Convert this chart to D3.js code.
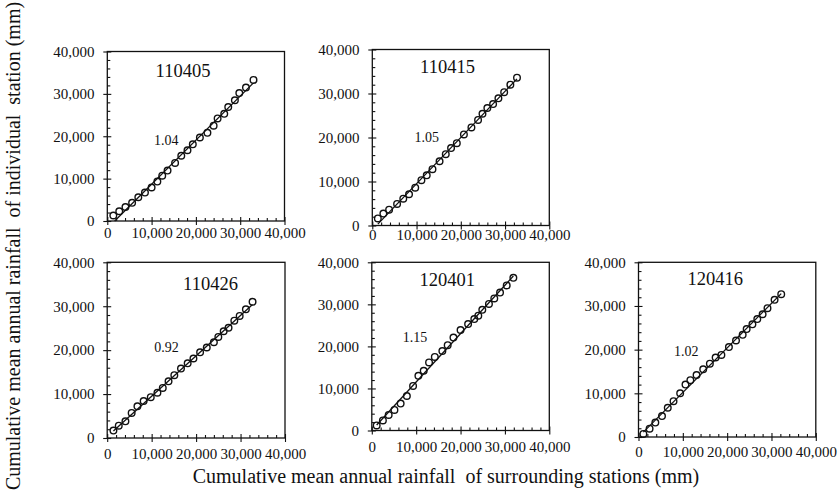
<!DOCTYPE html>
<html>
<head>
<meta charset="utf-8">
<script src="https://cdn.jsdelivr.net/npm/d3@7"></script>
<style>
  html, body { margin: 0; padding: 0; background: #fff; }
  svg { display: block; }
  svg text { font-family: "Liberation Serif", "Times New Roman", serif; }
  .axis-title { white-space: pre; }
</style>
</head>
<body>
<svg id="chart" width="838" height="494"></svg>
<script>
// Double-mass curves: cumulative rainfall of each station vs. mean of surrounding stations (mm)
const stations = ["110405", "110415", "110426", "120401", "120416"];
const slopes = [1.04, 1.05, 0.92, 1.15, 1.02];

const surround110405 = [1360, 2700, 4100, 5600, 7000, 8500, 10000, 11300, 12400, 13600, 15300, 16700, 18100, 19300, 20900, 22600, 24000, 24900, 26400, 27300, 28800, 29800, 31300, 33000];
const station110405 = [1300, 2300, 3300, 4300, 5600, 6700, 7900, 9300, 10700, 11900, 13700, 15400, 16700, 18100, 19700, 20800, 22500, 24200, 25300, 26900, 28500, 30200, 31500, 33300];

const surround110415 = [1250, 2500, 3800, 5600, 7000, 8300, 9700, 11100, 12300, 13600, 15200, 16600, 17800, 19100, 20700, 22400, 23900, 24900, 26000, 27300, 28500, 29800, 31200, 32700];
const station110415 = [1600, 2700, 3600, 4900, 6100, 7100, 8600, 10300, 11400, 12800, 14600, 16200, 17600, 18700, 20700, 22300, 24000, 25400, 26700, 27600, 28900, 30300, 32000, 33600];

const surround110426 = [1400, 2600, 4100, 5500, 6800, 8200, 9800, 11300, 12500, 13800, 15100, 16600, 18100, 19400, 20900, 22400, 24000, 25000, 26200, 27300, 28600, 29800, 31200, 32700];
const station110426 = [1700, 2800, 3800, 5700, 7200, 8400, 9300, 10300, 11400, 12900, 14300, 15800, 17000, 18100, 19500, 20600, 21800, 23000, 24300, 25100, 26700, 27800, 29300, 31000];

const surround120401 = [1100, 2500, 3800, 5100, 6500, 7900, 9300, 10500, 11700, 12900, 14200, 15900, 17100, 18400, 20000, 21700, 23100, 24000, 24900, 26400, 27600, 28900, 30400, 31900];
const station120401 = [1200, 2400, 3700, 4900, 6400, 8200, 10600, 13000, 14200, 16200, 17500, 18900, 20300, 22100, 23900, 25300, 26500, 27300, 28700, 30100, 31400, 32800, 34500, 36300];

const surround120416 = [1100, 2500, 3800, 5300, 6600, 7900, 9400, 10600, 11700, 13100, 14600, 16100, 17400, 18700, 20400, 22000, 23500, 24400, 25700, 26800, 28000, 29100, 30700, 32200];
const station120416 = [700, 1900, 3300, 4800, 6700, 8200, 10000, 12000, 13000, 14200, 15500, 16800, 18200, 18800, 20600, 22100, 23400, 24700, 25800, 27000, 28100, 29500, 31400, 32700];

const surroundSeries = [surround110405, surround110415, surround110426, surround120401, surround120416];
const stationSeries = [station110405, station110415, station110426, station120401, station120416];

const majorTicks = [0, 10000, 20000, 30000, 40000];
const axisMax = 40000;
const minorStep = 2000;

const xTitle = "Cumulative mean annual rainfall  of surrounding stations (mm)";
const yTitle = "Cumulative mean annual rainfall  of individual  station (mm)";

// Page layout of each small plot: frame edges, x-label offset, title and slope-label anchors
const layout = [
  { left: 107.3, top: 51.5,  right: 284.5, bottom: 221,   xLab: 11.5, tx: 183,   ty: 76.7, sx: 166.2, sy: 145 },
  { left: 372.3, top: 49.5,  right: 549.3, bottom: 225.5, xLab: 9.5,  tx: 447.5, ty: 73.3, sx: 426.7, sy: 141.7 },
  { left: 107.2, top: 262.3, right: 285,   bottom: 438,   xLab: 16,   tx: 210.5, ty: 290,  sx: 166.5, sy: 351.7 },
  { left: 371.8, top: 262.3, right: 549.3, bottom: 430.5, xLab: 16.5, tx: 447.2, ty: 286,  sx: 415,   sy: 341.7 },
  { left: 638.5, top: 262.3, right: 815.8, bottom: 437,   xLab: 15,   tx: 715.3, ty: 285,  sx: 686.3, sy: 356 }
];

const svg = d3.select("#chart");
const fmt = d3.format(",");
const minorTicks = d3.range(0, axisMax + 1, minorStep).filter(v => v % 10000 !== 0);
const ink = "#111";
const serif = '"Liberation Serif", "Times New Roman", serif';

function styleLabels(sel) {
  sel.style("font-family", serif).style("font-size", "15px").attr("fill", ink);
}

stations.forEach((name, i) => {
  const L = layout[i];
  const xs = surroundSeries[i];
  const ys = stationSeries[i];
  const pts = xs.map((v, k) => ({ x: v, y: ys[k] }));

  const x = d3.scaleLinear().domain([0, axisMax]).range([L.left, L.right]);
  const y = d3.scaleLinear().domain([0, axisMax]).range([L.bottom, L.top]);

  const g = svg.append("g");

  // x axis: labelled major ticks crossing the axis, minor ticks inside
  const gx = g.append("g")
    .attr("transform", `translate(0,${L.bottom})`)
    .call(d3.axisBottom(x).tickValues(majorTicks).tickSize(4).tickFormat(fmt));
  gx.select(".domain").remove();
  gx.attr("font-family", null).attr("font-size", null);
  styleLabels(gx.selectAll("text").attr("y", L.xLab).attr("dy", "0.35em"));
  g.append("g")
    .attr("transform", `translate(0,${L.bottom})`)
    .call(d3.axisTop(x).tickValues(majorTicks).tickSize(4).tickFormat(""))
    .call(s => s.select(".domain").remove());
  g.append("g")
    .attr("transform", `translate(0,${L.bottom})`)
    .call(d3.axisTop(x).tickValues(minorTicks).tickSize(3).tickFormat(""))
    .call(s => s.select(".domain").remove());

  // y axis
  const gy = g.append("g")
    .attr("transform", `translate(${L.left},0)`)
    .call(d3.axisLeft(y).tickValues(majorTicks).tickSize(4).tickFormat(fmt));
  gy.select(".domain").remove();
  gy.attr("font-family", null).attr("font-size", null);
  styleLabels(gy.selectAll("text").attr("x", -12.7));
  g.append("g")
    .attr("transform", `translate(${L.left},0)`)
    .call(d3.axisRight(y).tickValues(majorTicks).tickSize(4).tickFormat(""))
    .call(s => s.select(".domain").remove());
  g.append("g")
    .attr("transform", `translate(${L.left},0)`)
    .call(d3.axisRight(y).tickValues(minorTicks).tickSize(3).tickFormat(""))
    .call(s => s.select(".domain").remove());

  g.selectAll(".tick line").attr("stroke", ink).attr("stroke-width", 1.1);

  // plot frame
  g.append("rect")
    .attr("x", x(0)).attr("y", y(axisMax))
    .attr("width", x(axisMax) - x(0)).attr("height", y(0) - y(axisMax))
    .attr("fill", "none").attr("stroke", ink).attr("stroke-width", 1.3);

  // observed points (open circles)
  g.append("g").selectAll("circle").data(pts).join("circle")
    .attr("cx", d => x(d.x)).attr("cy", d => y(d.y)).attr("r", 3.3)
    .attr("fill", "none").attr("stroke", ink).attr("stroke-width", 1.4);

  // fitted line with the stated slope, passing through the centroid of the points
  const slope = slopes[i];
  const mx = d3.mean(xs), my = d3.mean(ys);
  const b = my - slope * mx;
  let x0 = d3.min(xs);
  if (slope * x0 + b < 0) x0 = -b / slope;
  const x1 = d3.max(xs);
  g.append("path")
    .datum([x0, x1])
    .attr("d", d3.line().x(d => x(d)).y(d => y(slope * d + b)))
    .attr("fill", "none").attr("stroke", ink).attr("stroke-width", 1.3);

  // station id and slope
  g.append("text").attr("x", L.tx).attr("y", L.ty).attr("text-anchor", "middle")
    .style("font-size", "18.5px").attr("fill", ink).text(name);
  g.append("text").attr("x", L.sx).attr("y", L.sy).attr("text-anchor", "middle")
    .style("font-size", "14px").attr("fill", ink).text(slopes[i].toFixed(2));
});

// shared axis titles
svg.append("text").attr("class", "axis-title")
  .attr("x", 446).attr("y", 483).attr("text-anchor", "middle")
  .style("font-size", "20px").attr("fill", ink).text(xTitle);

svg.append("text").attr("class", "axis-title")
  .attr("transform", "translate(20,246) rotate(-90)")
  .attr("text-anchor", "middle")
  .style("font-size", "20px").attr("fill", ink).text(yTitle);
</script>
</body>
</html>
